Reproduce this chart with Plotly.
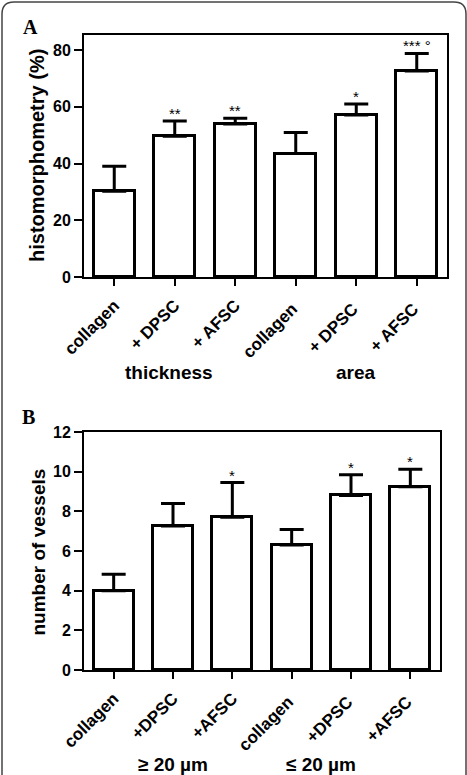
import plotly.graph_objects as go

W, H = 467, 775

# ---- data ----
cats_a = ["collagen", "+ DPSC", "+ AFSC", "collagen ", "+ DPSC ", "+ AFSC "]
vals_a = [30.2, 49.6, 53.9, 43.5, 57.1, 72.6]
err_a = [8.8, 5.4, 2.1, 7.4, 3.9, 6.2]
sig_a = ["", "**", "**", "", "*", "*** °"]
groups_a = ["thickness", "area"]

cats_b = ["collagen", "+DPSC", "+AFSC", "collagen ", "+DPSC ", "+AFSC "]
vals_b = [4.0, 7.26, 7.7, 6.3, 8.8, 9.24]
err_b = [0.83, 1.14, 1.75, 0.78, 1.05, 0.88]
sig_b = ["", "", "*", "", "*", "*"]
groups_b = ["\u2265 20 \u00b5m", "\u2264 20 \u00b5m"]

FONT = "Liberation Sans, Arial, sans-serif"


def px_x(p):
    return p / W


def px_y(p):
    return 1 - p / H


fig = go.Figure()

for vals, errs, cats, ax in [(vals_a, err_a, cats_a, ""), (vals_b, err_b, cats_b, "2")]:
    fig.add_trace(go.Bar(
        x=list(range(len(cats))), y=vals,
        width=0.67,
        marker=dict(color="white", line=dict(color="black", width=3)),
        error_y=dict(type="data", array=errs, arrayminus=[0] * len(errs),
                     symmetric=False, color="black", thickness=3, width=12),
        xaxis="x" + ax, yaxis="y" + ax, showlegend=False,
    ))

tickfont = dict(family=FONT, size=16, color="black", weight="bold")
xtickfont = dict(family=FONT, size=17, color="black", weight="bold")
common_x = dict(showline=True, linecolor="black", linewidth=2, mirror=True,
                ticks="outside", ticklen=7, tickwidth=2, tickcolor="black",
                tickangle=-45, tickfont=xtickfont, range=[-0.5, 5.5], automargin=False,
                ticklabelstandoff=3,
                tickmode="array", tickvals=list(range(6)), showgrid=False, zeroline=False)
common_y = dict(showline=True, linecolor="black", linewidth=2, mirror=True,
                ticks="outside", ticklen=8, tickwidth=2, tickcolor="black", automargin=False,
                tickfont=tickfont, showgrid=False, zeroline=False)

fig.update_layout(
    width=W, height=H, margin=dict(l=0, r=0, t=0, b=0, pad=0, autoexpand=False),
    plot_bgcolor="white", paper_bgcolor="white", bargap=0,
    xaxis=dict(domain=[px_x(84), px_x(447)], anchor="y", ticktext=cats_a, **common_x),
    yaxis=dict(domain=[px_y(277), px_y(35)], anchor="x", range=[0, 85.3],
               tickvals=[0, 20, 40, 60, 80], **common_y),
    xaxis2=dict(domain=[px_x(84), px_x(440)], anchor="y2", ticktext=cats_b, **common_x),
    yaxis2=dict(domain=[px_y(670), px_y(432)], anchor="x2", range=[0, 12],
                tickvals=[0, 2, 4, 6, 8, 10, 12], **common_y),
)

ann = []
# significance markers
for vals, errs, sig, xr, yr in [(vals_a, err_a, sig_a, "x", "y"), (vals_b, err_b, sig_b, "x2", "y2")]:
    for i, s in enumerate(sig):
        if s:
            ann.append(dict(x=i, y=vals[i] + errs[i], xref=xr, yref=yr, text=s,
                            showarrow=False, xanchor="center", yanchor="bottom", yshift=-3,
                            font=dict(family=FONT, size=15, color="black")))

bold19 = dict(family=FONT, size=19, color="black", weight="bold")
# group labels
for xv, yv, xr, txt in [(0.9, 373, "x", groups_a[0]), (3.99, 373, "x", groups_a[1]),
                        (1.0, 764, "x2", groups_b[0]), (3.49, 764, "x2", groups_b[1])]:
    ann.append(dict(x=xv, y=px_y(yv), xref=xr, yref="paper", text=txt, showarrow=False,
                    xanchor="center", yanchor="middle", font=bold19))

# y titles
ann.append(dict(x=px_x(37), y=px_y(156), xref="paper", yref="paper", text="histomorphometry (%)",
                textangle=-90, showarrow=False, xanchor="center", yanchor="middle",
                font=dict(family=FONT, size=20, color="black", weight="bold")))
ann.append(dict(x=px_x(37.5), y=px_y(552), xref="paper", yref="paper", text="number of vessels",
                textangle=-90, showarrow=False, xanchor="center", yanchor="middle", font=bold19))

# panel letters
for letter, cx, cy in [("A", 30.5, 27), ("B", 28.5, 416.5)]:
    ann.append(dict(x=px_x(cx), y=px_y(cy), xref="paper", yref="paper", text=letter,
                    showarrow=False, xanchor="center", yanchor="middle",
                    font=dict(family="Liberation Serif, Times New Roman, serif", size=20,
                              color="black", weight="bold")))

fig.update_layout(annotations=ann)

# outer rounded border
r = 12
x0, y0, x1, y1 = 2, 2, 466, 800
path = (f"M {px_x(x0)},{px_y(y0 + r)} Q {px_x(x0)},{px_y(y0)} {px_x(x0 + r)},{px_y(y0)} "
        f"L {px_x(x1 - r)},{px_y(y0)} Q {px_x(x1)},{px_y(y0)} {px_x(x1)},{px_y(y0 + r)} "
        f"L {px_x(x1)},{px_y(y1)} L {px_x(x0)},{px_y(y1)} Z")
fig.add_shape(type="path", path=path, xref="paper", yref="paper",
              line=dict(color="#444", width=1.5), layer="below")

fig.write_html("out.html")
